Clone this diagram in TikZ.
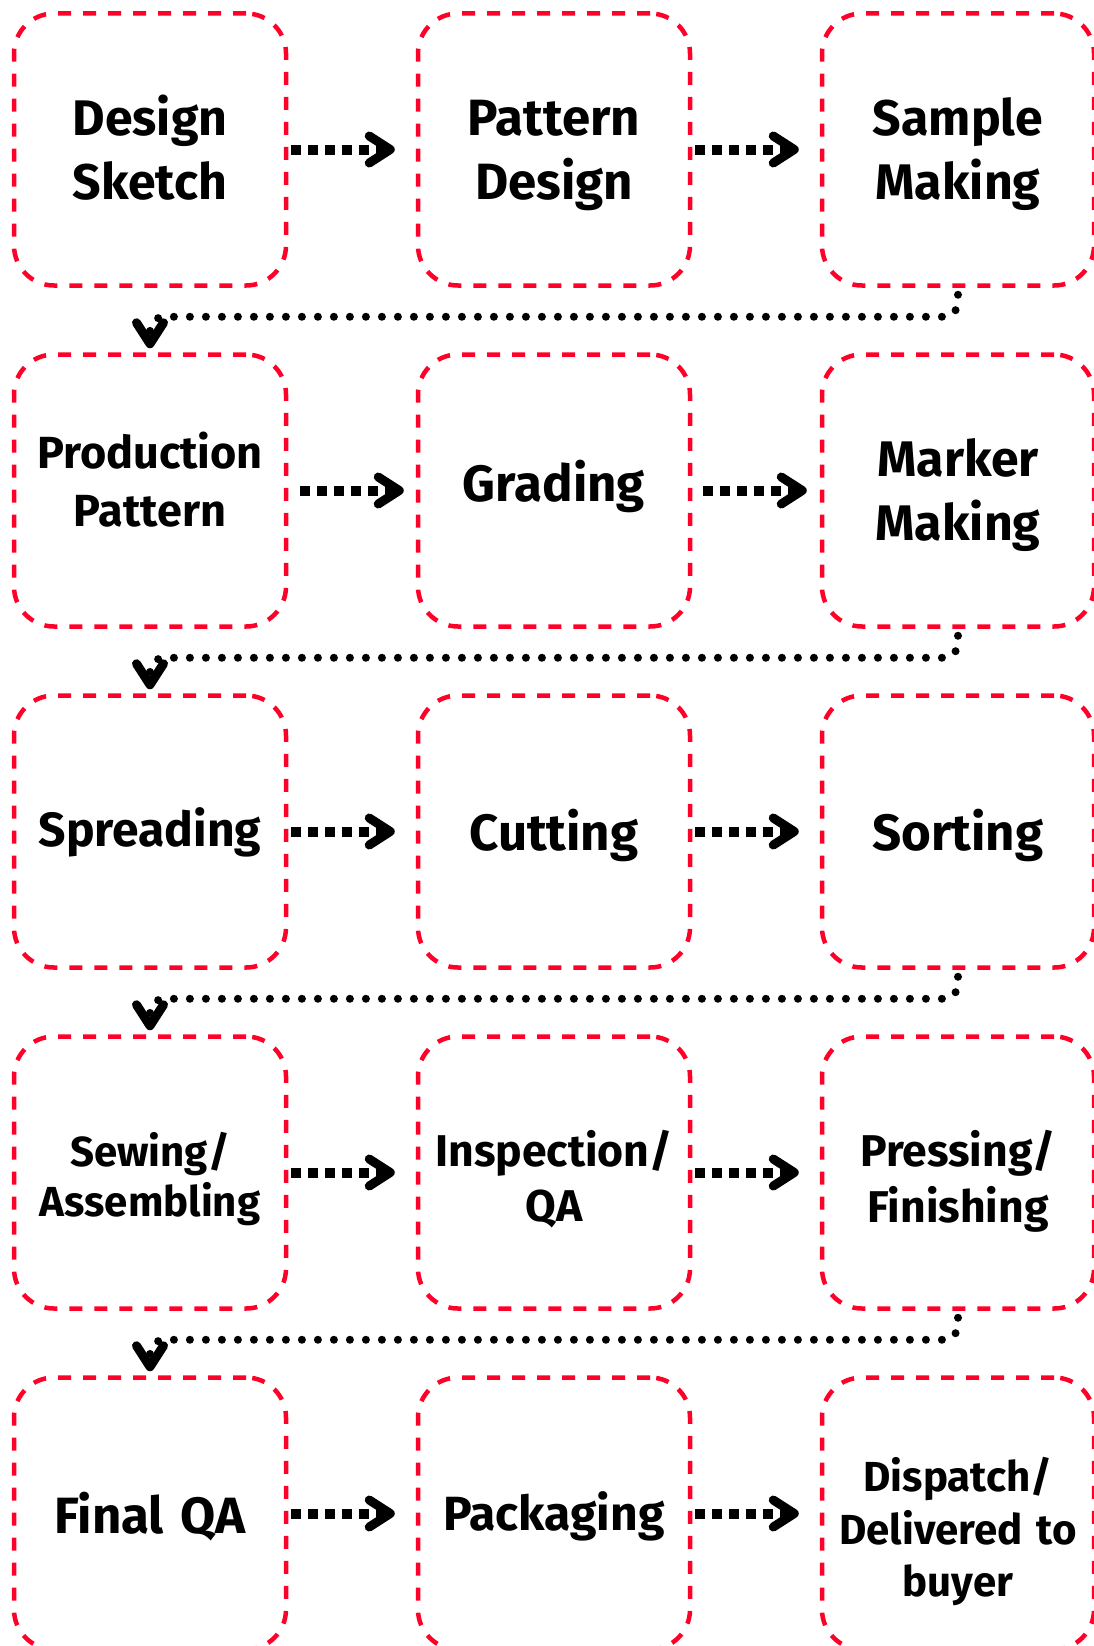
\documentclass[tikz,border=0pt]{standalone}
\usepackage{fontspec}
\setmainfont{Fira Sans}
\usetikzlibrary{arrows.meta}
\definecolor{boxred}{RGB}{255,0,40}
\newcommand\fz[2]{\fontsize{#1}{#2}\selectfont}
\tikzset{
  chev/.tip={Straight Barb[length=21pt,width=27pt,line width=9pt,round]},
}
\begin{document}
\begin{tikzpicture}[x=1pt,y=-1pt,
  stepbox/.style={draw=boxred, line width=4.5pt, dash pattern=on 13pt off 12pt,
    rounded corners=40pt, minimum width=272pt, minimum height=272pt,
    inner sep=0pt, align=center, text width=268pt},
  tb/.style 2 args={text height=#1, text depth=#2},
  sqdot/.style={line width=10pt, dash pattern=on 10pt off 7pt, -chev},
  rdot/.style={line width=8pt, line cap=round, dash pattern=on 0pt off 16pt,
    rounded corners=14pt, -chev},
]
\useasboundingbox (0,0) rectangle (1094,1646);

% row 1
\node[stepbox, tb={35pt}{64pt}, font=\bfseries\fz{50}{64}] (c11) at (150,149.5) {Design\\Sketch};
\node[stepbox, tb={35pt}{64pt}, font=\bfseries\fz{51}{64}] (c12) at (554,149.5) {Pattern\\Design};
\node[stepbox, tb={35pt}{64pt}, font=\bfseries\fz{50}{64}] (c13) at (958,149.5) {Sample\\Making};
% row 2
\node[stepbox, tb={14pt}{58.4pt}, font=\bfseries\fz{45}{58.4}] (c21) at (150,490.5) {Production\\Pattern};
\node[stepbox, tb={22.4pt}{0pt}, font=\bfseries\fz{51}{64}] (c22) at (554,490.5) {Grading};
\node[stepbox, tb={35pt}{64pt}, font=\bfseries\fz{50}{64}] (c23) at (958,490.5) {Marker\\Making};
% row 3
\node[stepbox, tb={30.4pt}{0pt}, font=\bfseries\fz{48}{60}] (c31) at (150,831.5) {Spreading};
\node[stepbox, tb={37pt}{0pt}, font=\bfseries\fz{51}{60}] (c32) at (554,831.5) {Cutting};
\node[stepbox, tb={37pt}{0pt}, font=\bfseries\fz{51}{60}] (c33) at (958,831.5) {Sorting};
% row 4
\node[stepbox, tb={38.4pt}{50pt}, font=\bfseries\fz{42}{50}] (c41) at (150,1172.5) {Sewing/\\Assembling};
\node[stepbox, tb={43.4pt}{55pt}, font=\bfseries\fz{44.5}{55}] (c42) at (554,1172.5) {Inspection/\\QA};
\node[stepbox, tb={44.4pt}{56pt}, font=\bfseries\fz{44.5}{56}] (c43) at (958,1172.5) {Pressing/\\Finishing};
% row 5
\node[stepbox, tb={39.6pt}{0pt}, font=\bfseries\fz{51}{60}] (c51) at (150,1513.5) {Final QA};
\node[stepbox, tb={33pt}{0pt}, font=\bfseries\fz{48}{60}] (c52) at (554,1513.5) {Packaging};
\node[stepbox, tb={61.4pt}{105pt}, font=\bfseries\fz{42}{52.5}] (c53) at (958,1513.5) {Dispatch/\\Delivered to\\buyer};

% horizontal connectors
\draw[sqdot] ([xshift=3pt]c11.east) -- ([xshift=-21pt]c12.west);
\draw[sqdot] ([xshift=3pt]c12.east) -- ([xshift=-21pt]c13.west);
\draw[sqdot] ([xshift=12pt]c21.east) -- ([xshift=-12pt]c22.west);
\draw[sqdot] ([xshift=11pt]c22.east) -- ([xshift=-13pt]c23.west);
\draw[sqdot] ([xshift=3pt]c31.east) -- ([xshift=-21pt]c32.west);
\draw[sqdot] ([xshift=3pt]c32.east) -- ([xshift=-21pt]c33.west);
\draw[sqdot] ([xshift=3pt]c41.east) -- ([xshift=-21pt]c42.west);
\draw[sqdot] ([xshift=3pt]c42.east) -- ([xshift=-21pt]c43.west);
\draw[sqdot] ([xshift=3pt]c51.east) -- ([xshift=-21pt]c52.west);
\draw[sqdot] ([xshift=3pt]c52.east) -- ([xshift=-21pt]c53.west);

% row-to-row connectors
\draw[rdot] ([yshift=-7pt]c13.south) -- ++(0,22) -| ([yshift=4pt]c21.north);
\draw[rdot] ([yshift=-7pt]c23.south) -- ++(0,22) -| ([yshift=4pt]c31.north);
\draw[rdot] ([yshift=-7pt]c33.south) -- ++(0,22) -| ([yshift=4pt]c41.north);
\draw[rdot] ([yshift=-7pt]c43.south) -- ++(0,22) -| ([yshift=4pt]c51.north);
\end{tikzpicture}
\end{document}
